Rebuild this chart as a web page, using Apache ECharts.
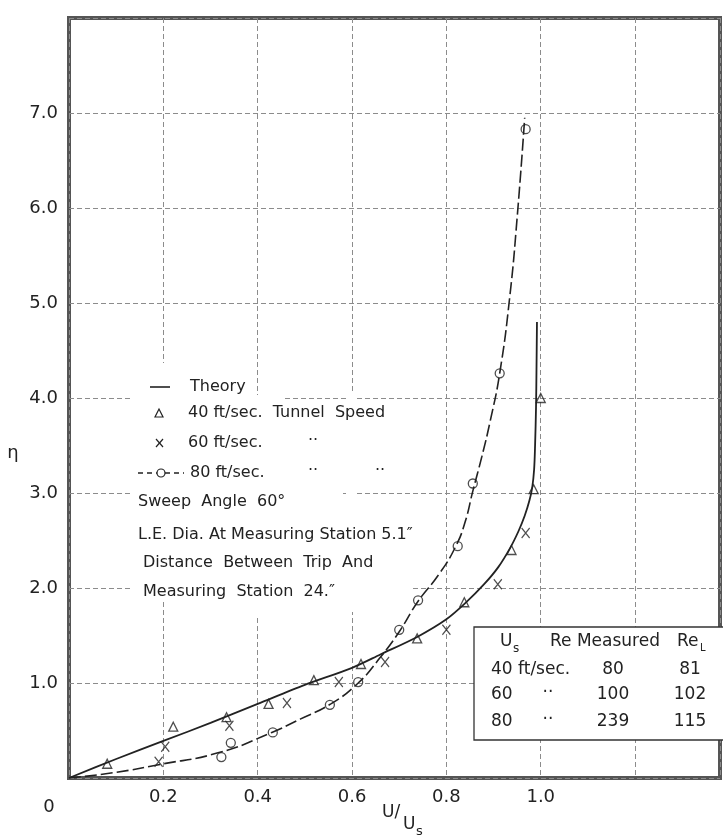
<!DOCTYPE html>
<html>
<head>
<meta charset="utf-8">
<script src="https://cdn.jsdelivr.net/npm/echarts/dist/echarts.min.js"></script>
<style>html,body{margin:0;padding:0;background:#fff}#c{width:723px;height:839px}</style>
</head>
<body>
<div id="c"></div>
<script>
// ---------- data ----------
const xTickValues = [0, 0.2, 0.4, 0.6, 0.8, 1.0];
const xTickLabels = ['0', '0.2', '0.4', '0.6', '0.8', '1.0'];
const yTickValues = [1, 2, 3, 4, 5, 6, 7];
const yTickLabels = ['1.0', '2.0', '3.0', '4.0', '5.0', '6.0', '7.0'];

// Theory curve (solid)
const theoryCurve = [[0,0],[0.1,0.2],[0.2,0.39],[0.3,0.58],[0.4,0.78],[0.5,0.98],[0.6,1.16],[0.66,1.3],[0.74,1.49],[0.8,1.67],[0.84,1.84],[0.88,2.04],[0.91,2.22],[0.935,2.42],[0.953,2.6],[0.966,2.76],[0.976,2.92],[0.982,3.06],[0.986,3.25],[0.988,3.5],[0.99,3.9],[0.991,4.3],[0.992,4.8]];
// Faired curve through the 80 ft/sec points (dashed)
const fit80Curve = [[0,0],[0.1,0.06],[0.19,0.14],[0.32,0.27],[0.43,0.48],[0.49,0.62],[0.555,0.78],[0.613,1.0],[0.66,1.27],[0.70,1.54],[0.74,1.86],[0.785,2.15],[0.82,2.44],[0.84,2.7],[0.856,3.02],[0.875,3.38],[0.893,3.76],[0.913,4.26],[0.934,5.05],[0.95,5.9],[0.966,6.95]];
// Measured points
const speed40 = [[0.081,0.15],[0.221,0.54],[0.334,0.64],[0.423,0.78],[0.519,1.03],[0.619,1.2],[0.738,1.47],[0.838,1.85],[0.938,2.4],[0.985,3.04],[1.0,4.0]];
const speed60 = [[0.19,0.17],[0.204,0.33],[0.34,0.55],[0.462,0.79],[0.572,1.01],[0.67,1.22],[0.80,1.56],[0.909,2.04],[0.968,2.58]];
const speed80 = [[0.323,0.22],[0.343,0.37],[0.432,0.48],[0.553,0.77],[0.613,1.01],[0.70,1.56],[0.74,1.87],[0.824,2.44],[0.856,3.1],[0.913,4.26],[0.968,6.83]];

// Table of Reynolds numbers
const tableSpeeds = ['40 ft/sec.', '60', '80'];
const tableDitto = ['', '··', '··'];
const reMeasured = ['80', '100', '239'];
const reL = ['81', '102', '115'];

// ---------- chart ----------
const INK = '#222';
const FONT = '"DejaVu Sans", sans-serif';
const chart = echarts.init(document.getElementById('c'));

function T(x, y, text, size, align) {
  return {
    type: 'text', z: 10,
    style: {
      x: x, y: y, text: text, fill: INK,
      font: (size || 16) + 'px ' + FONT,
      align: align || 'left', verticalAlign: 'middle',
      textAlign: align || 'left', textVerticalAlign: 'middle'
    }
  };
}
function mask(x, y, w, h) {
  return { type: 'rect', z: 1, shape: { x: x, y: y, width: w, height: h }, style: { fill: '#fff' } };
}
function idx(arr, v) {
  for (let i = 0; i < arr.length; i++) if (Math.abs(arr[i] - v) < 1e-6) return i;
  return -1;
}

const hollow = { color: 'rgba(255,255,255,0)', borderColor: INK, borderWidth: 1.3 };

const graphics = [
  // gaps in the grid round the notes
  mask(133, 395, 150, 6),
  mask(130, 490, 213, 6),
  mask(130, 585, 280, 6),
  mask(160, 363, 7, 237),
  mask(255, 396, 7, 219),
  mask(349, 393, 7, 219),
  // legend keys
  { type: 'line', z: 10, shape: { x1: 150, y1: 387, x2: 170, y2: 387 }, style: { stroke: INK, lineWidth: 1.6 } },
  { type: 'polygon', z: 10, shape: { points: [[155, 417], [163, 417], [159, 409]] }, style: { fill: 'none', stroke: INK, lineWidth: 1.2 } },
  { type: 'line', z: 10, shape: { x1: 156, y1: 439, x2: 163, y2: 447 }, style: { stroke: INK, lineWidth: 1.2 } },
  { type: 'line', z: 10, shape: { x1: 163, y1: 439, x2: 156, y2: 447 }, style: { stroke: INK, lineWidth: 1.2 } },
  { type: 'line', z: 10, shape: { x1: 138, y1: 473, x2: 184, y2: 473 }, style: { stroke: INK, lineWidth: 1.4, lineDash: [5, 4] } },
  { type: 'circle', z: 11, shape: { cx: 161, cy: 473, r: 4 }, style: { fill: '#fff', stroke: INK, lineWidth: 1.2 } },
  // legend / notes text
  T(190, 387, 'Theory'),
  T(188, 413, '40 ft/sec.  Tunnel  Speed'),
  T(188, 443, '60 ft/sec.'),
  T(313, 441, '··', 16, 'center'),
  T(190, 473, '80 ft/sec.'),
  T(313, 471, '··', 16, 'center'),
  T(380, 471, '··', 16, 'center'),
  T(138, 502, 'Sweep  Angle  60°'),
  T(138, 535, 'L.E. Dia. At Measuring Station 5.1″'),
  T(143, 563, 'Distance  Between  Trip  And'),
  T(143, 592, 'Measuring  Station  24.″'),
  // axis titles
  T(13, 453, 'η', 18, 'center'),
  T(382, 813, 'U/', 17),
  T(403, 825, 'U', 17),
  T(416, 832, 's', 13),
  // table box
  { type: 'rect', z: 2, shape: { x: 474, y: 627, width: 270, height: 113 }, style: { fill: '#fff', stroke: '#333', lineWidth: 1.3 } },
  T(500, 642, 'U', 17),
  T(513, 649, 's', 12),
  T(550, 642, 'Re Measured', 17),
  T(677, 642, 'Re', 17),
  T(700, 648, 'L', 10)
];
const rowY = [670, 695, 722];
for (let i = 0; i < tableSpeeds.length; i++) {
  graphics.push(T(491, rowY[i], tableSpeeds[i], 17));
  if (tableDitto[i]) graphics.push(T(548, rowY[i] - 2, tableDitto[i], 17, 'center'));
  graphics.push(T(613, rowY[i], reMeasured[i], 17, 'center'));
  graphics.push(T(690, rowY[i], reL[i], 17, 'center'));
}

const option = {
  animation: false,
  backgroundColor: '#fff',
  grid: {
    left: 69, top: 18, width: 651, height: 760,
    show: true, borderColor: '#555', borderWidth: 4, backgroundColor: 'transparent',
    containLabel: false, outerBoundsMode: 'none'
  },
  xAxis: {
    type: 'value', min: 0, max: 1.38, interval: 0.2,
    axisLine: { show: false }, axisTick: { show: false },
    splitLine: { show: true, lineStyle: { color: '#8c8c8c', width: 1, type: [5, 3] } },
    axisLabel: {
      margin: 10, color: INK, fontFamily: FONT, fontSize: 18,
      showMinLabel: true, showMaxLabel: false, hideOverlap: false,
      formatter: function (v) {
        const i = idx(xTickValues, v);
        if (i < 0) return '';
        return i === 0 ? '{z|' + xTickLabels[0] + '}' : xTickLabels[i];
      },
      rich: { z: { fontFamily: FONT, fontSize: 18, color: INK, padding: [10, 40, 0, 0] } }
    }
  },
  yAxis: {
    type: 'value', min: 0, max: 8, interval: 1,
    axisLine: { show: false }, axisTick: { show: false },
    splitLine: { show: true, lineStyle: { color: '#8c8c8c', width: 1, type: [5, 3] } },
    axisLabel: {
      margin: 11, color: INK, fontFamily: FONT, fontSize: 18,
      formatter: function (v) {
        const i = idx(yTickValues, v);
        return i < 0 ? '' : yTickLabels[i];
      }
    }
  },
  series: [
    { name: 'Theory', type: 'line', data: theoryCurve, showSymbol: false, smooth: 0.3, z: 3,
      lineStyle: { color: INK, width: 1.8 } },
    { name: '80 ft/sec. curve', type: 'line', data: fit80Curve, showSymbol: false, smooth: 0.5, z: 3,
      lineStyle: { color: INK, width: 1.6, type: [12, 4] } },
    { name: '40 ft/sec. Tunnel Speed', type: 'scatter', data: speed40, symbol: 'triangle', symbolSize: 9, z: 4,
      itemStyle: hollow },
    { name: '60 ft/sec.', type: 'scatter', data: speed60, symbol: 'path://M0,0L8,10M8,0L0,10', symbolSize: [8, 10], z: 4,
      itemStyle: hollow },
    { name: '80 ft/sec.', type: 'scatter', data: speed80, symbol: 'circle', symbolSize: 9, z: 4,
      itemStyle: hollow }
  ],
  graphic: { elements: graphics }
};
chart.setOption(option);
</script>
</body>
</html>
